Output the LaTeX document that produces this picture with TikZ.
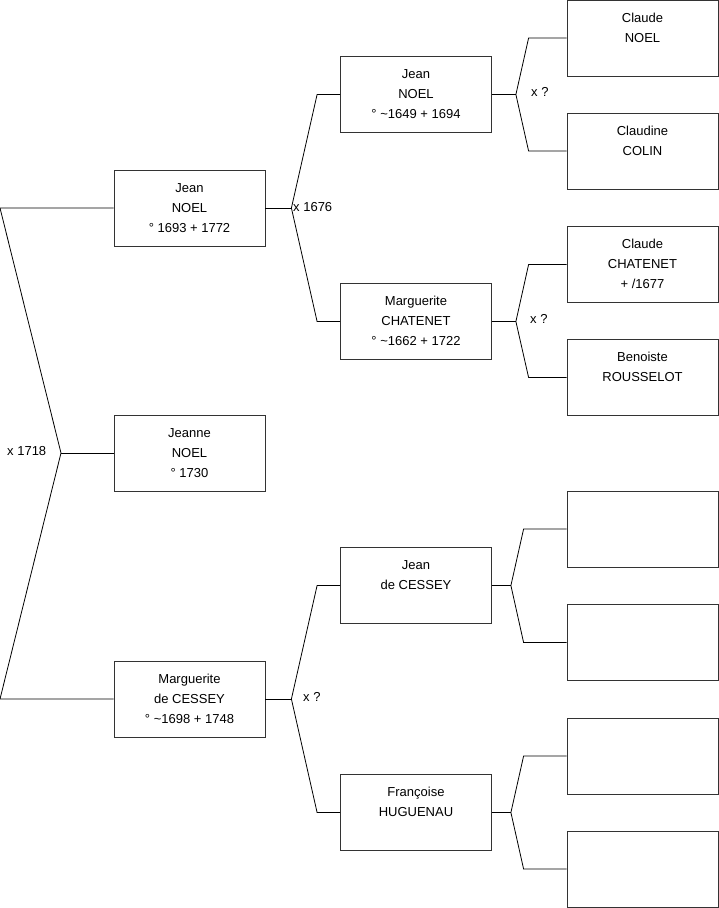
\documentclass[tikz,border=0pt]{standalone}
\usepackage{fontspec}
\setmainfont{Liberation Sans}
\usetikzlibrary{positioning}

% text of one card, top aligned
\newcommand{\card}[1]{\parbox[c][76pt][t]{151pt}{\centering\rule{0pt}{22pt}#1}}

\begin{document}
\begin{tikzpicture}[
    x=1pt, y=-1pt,
    person/.style={rectangle, draw=black!80, line width=0.8pt, inner sep=0pt, font=\fontsize{13}{20}\selectfont},
    link/.style={draw=black, line width=0.8pt},
    mariage/.style={anchor=west, inner sep=0pt, font=\fontsize{13}{15}\selectfont}
]
\useasboundingbox (0,0) rectangle (719,908);

% Generation 1
\node[person] (jean) at (189.5,208) {\card{Jean\\NOEL\\° 1693 + 1772}};
\node[person] (jeanne) at (189.5,453) {\card{Jeanne\\NOEL\\° 1730}};
\node[person] (marguerite) at (189.5,699) {\card{Marguerite\\de CESSEY\\° \textasciitilde1698 + 1748}};

% Generation 2
\node[person] (jeanpere) at (416,94.5) {\card{Jean\\NOEL\\° \textasciitilde1649 + 1694}};
\node[person] (chatenet) at (416,321.5) {\card{Marguerite\\CHATENET\\° \textasciitilde1662 + 1722}};
\node[person] (cessey) at (416,585.5) {\card{Jean\\de CESSEY}};
\node[person] (huguenau) at (416,812.5) {\card{Françoise\\HUGUENAU}};

% Generation 3
\node[person] (claude) at (642.5,38) {\card{Claude\\NOEL}};
\node[person] (colin) at (642.5,151) {\card{Claudine\\COLIN}};
\node[person] (claudec) at (642.5,264.5) {\card{Claude\\CHATENET\\+ /1677}};
\node[person] (rousselot) at (642.5,377.5) {\card{Benoiste\\ROUSSELOT}};
\node[person] (vide1) at (642.5,529) {\card{}};
\node[person] (vide2) at (642.5,642.5) {\card{}};
\node[person] (vide3) at (642.5,756) {\card{}};
\node[person] (vide4) at (642.5,869) {\card{}};

% Forks
\coordinate (x1718) at (61,453);
\coordinate (t1718) at (0,208);
\coordinate (b1718) at (0,699);
\draw[link] (jean.west) -- (t1718) -- (x1718) -- (b1718) -- (marguerite.west);
\draw[link] (x1718) -- (jeanne.west);

\draw[link] (jean.east) -- ++(26,0) coordinate (x1676);
\draw[link] (jeanpere.west) -- ([xshift=-23pt]jeanpere.west) -- (x1676) -- ([xshift=-23pt]chatenet.west) -- (chatenet.west);

\draw[link] (marguerite.east) -- ++(26,0) coordinate (xmarg);
\draw[link] (cessey.west) -- ([xshift=-23pt]cessey.west) -- (xmarg) -- ([xshift=-23pt]huguenau.west) -- (huguenau.west);

\draw[link] (jeanpere.east) -- ++(24,0) coordinate (xjean);
\draw[link] (claude.west) -- ([xshift=-38pt]claude.west) -- (xjean) -- ([xshift=-38pt]colin.west) -- (colin.west);

\draw[link] (chatenet.east) -- ++(24,0) coordinate (xchat);
\draw[link] (claudec.west) -- ([xshift=-38pt]claudec.west) -- (xchat) -- ([xshift=-38pt]rousselot.west) -- (rousselot.west);

\draw[link] (cessey.east) -- ++(19,0) coordinate (xcess);
\draw[link] (vide1.west) -- ([xshift=-43pt]vide1.west) -- (xcess) -- ([xshift=-43pt]vide2.west) -- (vide2.west);

\draw[link] (huguenau.east) -- ++(19,0) coordinate (xhug);
\draw[link] (vide3.west) -- ([xshift=-43pt]vide3.west) -- (xhug) -- ([xshift=-43pt]vide4.west) -- (vide4.west);

% Marriage labels
\node[mariage] (m1718) at (7,451) {x 1718};
\node[mariage] (m1676) at (293,207) {x 1676};
\node[mariage] (mmarg) at (303,697) {x ?};
\node[mariage] (mjean) at (531,92) {x ?};
\node[mariage] (mchat) at (530,319) {x ?};

\end{tikzpicture}
\end{document}
